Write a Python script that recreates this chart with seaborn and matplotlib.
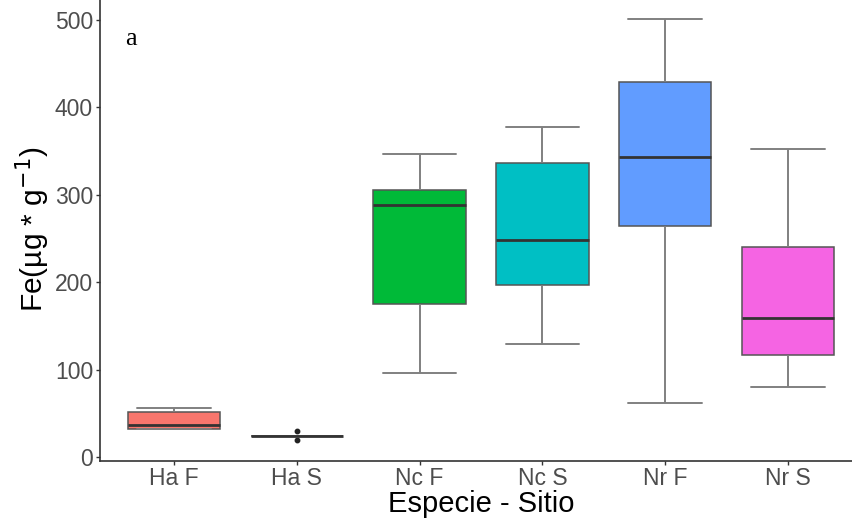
import matplotlib
matplotlib.use("Agg")
import matplotlib.pyplot as plt
import seaborn as sns
import pandas as pd

# Groups (species - site) and their box summaries, in µg/g
categories = ["Ha F", "Ha S", "Nc F", "Nc S", "Nr F", "Nr S"]
lower_whisker = [33.0, 25.0, 96.0, 130.0, 62.0, 80.0]
q1 = [33.0, 25.0, 175.0, 197.0, 264.0, 117.0]
median = [36.6, 25.0, 288.0, 249.0, 343.0, 159.0]
q3 = [51.5, 25.0, 305.5, 336.0, 429.0, 240.0]
upper_whisker = [57.0, 25.0, 347.0, 377.5, 501.0, 352.0]
outlier_group = ["Ha S", "Ha S"]
outlier_value = [30.0, 19.5]

colors = ["#F8766D", "#B79F00", "#00BA38", "#00BFC4", "#619CFF", "#F564E3"]
y_ticks = [0, 100, 200, 300, 400, 500]

# Each group is described by its five-number summary plus any outliers
rows = []
for i, cat in enumerate(categories):
    for v in (lower_whisker[i], q1[i], median[i], q3[i], upper_whisker[i]):
        rows.append((cat, v))
for cat, v in zip(outlier_group, outlier_value):
    rows.append((cat, v))
df = pd.DataFrame(rows, columns=["grupo", "fe"])

sns.set_theme(style="white")
plt.rcParams["font.family"] = ["Liberation Sans", "DejaVu Sans"]

fig = plt.figure(figsize=(8.52, 5.25), dpi=100)
ax = fig.add_axes([100 / 852, 64 / 525, 762 / 852, 464 / 525])

sns.boxplot(
    data=df, x="grupo", y="fe", hue="grupo", order=categories,
    hue_order=categories, palette=colors, legend=False, dodge=False,
    width=0.75, whis=1.5, saturation=1, ax=ax,
    boxprops={"edgecolor": "#555555", "linewidth": 1.1},
    whiskerprops={"color": "#808080", "linewidth": 1.4},
    capprops={"color": "#808080", "linewidth": 1.4},
    medianprops={"color": "#333333", "linewidth": 2.0},
    flierprops={"marker": "o", "markerfacecolor": "#222222",
                "markeredgecolor": "#222222", "markersize": 3.2},
    capwidths=0.6,
)

ax.set_xlim(-0.6, 5.6)
ax.set_ylim(-4, 526)
ax.set_yticks(y_ticks)
ax.set_yticklabels([str(t) for t in y_ticks])

for side in ("top", "right"):
    ax.spines[side].set_visible(False)
for side in ("left", "bottom"):
    ax.spines[side].set_color("#333333")
    ax.spines[side].set_linewidth(1.2)

ax.tick_params(axis="both", which="major", length=3.0, width=1.0,
               color="#333333", labelsize=16.5, labelcolor="#4D4D4D",
               left=True, bottom=True)
ax.tick_params(axis="y", pad=2)
ax.tick_params(axis="x", pad=1.5)

ax.set_xlabel("Especie - Sitio", fontsize=21, color="black", labelpad=0)
ax.set_ylabel("Fe(µg * g$^{-1}$)", fontsize=21.5, color="black", labelpad=2)

ax.text(-0.35, 471.5, "a", fontsize=19, color="black",
        family=["Liberation Serif", "DejaVu Serif"], ha="center", va="baseline")

fig.savefig("out.png", dpi=100)
